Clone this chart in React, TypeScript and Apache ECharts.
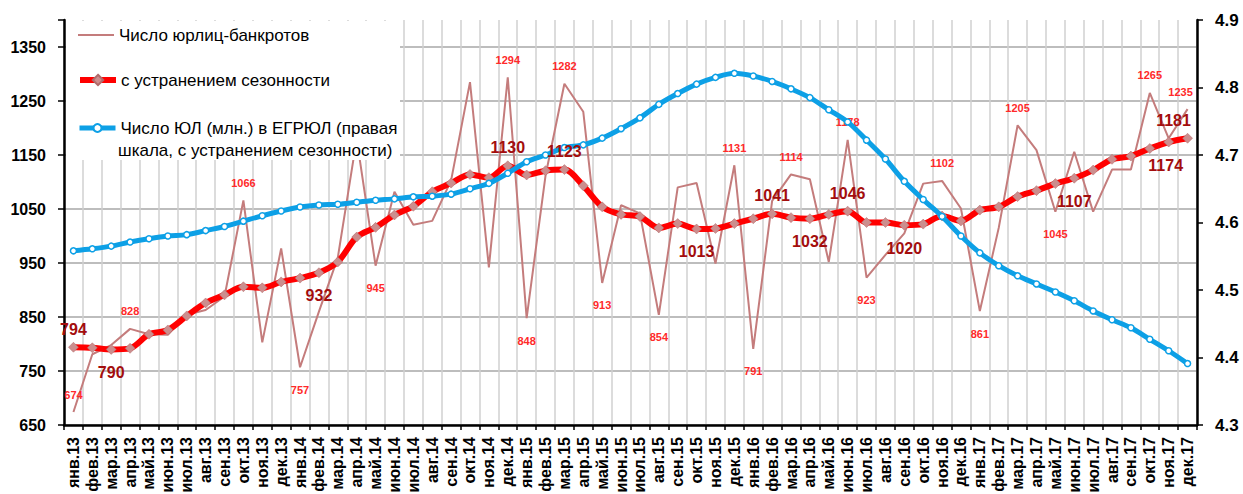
import React, { useEffect, useRef } from 'react';
import * as echarts from 'echarts';

const months = ['янв', 'фев', 'мар', 'апр', 'май', 'июн', 'июл', 'авг', 'сен', 'окт', 'ноя', 'дек'];
const years = ['13', '14', '15', '16', '17'];
const categories = years.flatMap((y) => months.map((m) => `${m}.${y}`));

const bankrupts = [
  674, 781, 798, 828, 818, 817, 854, 863, 888, 1066,
  803, 977, 757, 860, 960, 1180, 945, 1082, 1021, 1028,
  1103, 1285, 942, 1294, 848, 1112, 1282, 1230, 913, 1057,
  1042, 854, 1090, 1098, 949, 1131, 791, 1065, 1114, 1105,
  952, 1178, 923, 965, 1005, 1097, 1102, 1051, 861, 1015,
  1205, 1159, 1045, 1156, 1045, 1123, 1123, 1265, 1181, 1235,
];

const bankruptsSA = [
  794, 793, 790, 792, 818, 826, 852, 876, 891, 906,
  904, 915, 922, 932, 952, 998, 1016, 1039, 1055, 1082,
  1098, 1114, 1108, 1130, 1113, 1121, 1123, 1093, 1054, 1040,
  1036, 1015, 1023, 1013, 1014, 1023, 1032, 1041, 1034, 1032,
  1040, 1046, 1025, 1025, 1020, 1022, 1037, 1028, 1048, 1054,
  1073, 1084, 1097, 1107, 1122, 1142, 1148, 1162, 1174, 1181,
];

const entities = [
  4.558, 4.561, 4.565, 4.571, 4.576, 4.58, 4.582, 4.588, 4.594, 4.602,
  4.61, 4.617, 4.623, 4.626, 4.627, 4.63, 4.633, 4.635, 4.638, 4.639,
  4.642, 4.65, 4.658, 4.673, 4.69, 4.7, 4.711, 4.715, 4.725, 4.739,
  4.755, 4.775, 4.791, 4.805, 4.815, 4.821, 4.817, 4.809, 4.798, 4.785,
  4.767, 4.749, 4.722, 4.694, 4.661, 4.634, 4.609, 4.58, 4.555, 4.536,
  4.521, 4.509, 4.497, 4.484, 4.469, 4.456, 4.444, 4.427, 4.41, 4.391,
];

const rawLabelTop = [0, 3, 9, 23, 26, 35, 38, 41, 46, 50, 57, 59];
const rawLabelBottom = [12, 16, 24, 28, 31, 36, 42, 48, 52];
const saLabelTop = [0, 23, 26, 37, 41, 59];
const saLabelBottom = [2, 13, 33, 39, 44, 53, 58];

const NAME_RAW = 'Число юрлиц-банкротов';
const NAME_SA = 'с устранением сезонности';
const NAME_ENT = 'Число ЮЛ (млн.) в ЕГРЮЛ (правая шкала, с устранением сезонности)';
const ENT_LINE1 = 'Число ЮЛ (млн.) в ЕГРЮЛ (правая';
const ENT_LINE2 = 'шкала, с устранением сезонности)';

const FONT = 'Arial, "Liberation Sans", sans-serif';

function withLabels(values: number[], top: number[], bottom: number[], dTop: number, dBottom: number, offsets: Record<number, number[]>) {
  return values.map((v, i) => {
    const isTop = top.includes(i);
    const isBottom = bottom.includes(i);
    if (!isTop && !isBottom) return v;
    return {
      value: v,
      label: {
        show: true,
        position: isTop ? 'top' : 'bottom',
        distance: isTop ? dTop : dBottom,
        offset: offsets[i] || [0, 0],
      },
    };
  });
}

export default function App() {
  const ref = useRef<HTMLDivElement>(null);

  useEffect(() => {
    if (!ref.current) return;
    const chart = echarts.init(ref.current, undefined, { renderer: 'svg' });

    const rawData = withLabels(bankrupts, rawLabelTop, rawLabelBottom, 12, 17, { 59: [-7, 0] });
    const saLabelData = withLabels(bankruptsSA, saLabelTop, saLabelBottom, 10, 15, { 59: [-14, 0], 58: [-3, 0] });

    const legendBase = {
      orient: 'vertical',
      left: 77,
      padding: 0,
      itemWidth: 36,
      itemHeight: 14,
      z: 10,
      selectedMode: false,
      textStyle: { fontSize: 17, color: '#000', fontFamily: FONT, lineHeight: 20 },
    };

    const option: any = {
      animation: false,
      backgroundColor: '#fff',
      grid: { left: 64, right: 46, top: 20, bottom: 69, containLabel: false, outerBoundsMode: 'none' },
      legend: [
        { ...legendBase, top: 25, data: [NAME_RAW], lineStyle: { width: 2 } },
        { ...legendBase, top: 70, data: [NAME_SA], lineStyle: { width: 6 }, itemHeight: 13 },
        {
          ...legendBase,
          top: 118,
          itemHeight: 10,
          data: [NAME_ENT],
          lineStyle: { width: 5 },
          formatter: () => ENT_LINE1,
        },
      ],
      graphic: [
        {
          type: 'rect',
          z: 5,
          shape: { x: 66, y: 21, width: 334, height: 139 },
          style: { fill: '#ffffff' },
        },
        {
          type: 'text',
          z: 10,
          x: 118,
          y: 150,
          style: {
            text: ENT_LINE2,
            fill: '#000',
            fontSize: 17,
            fontFamily: FONT,
            verticalAlign: 'middle',
            align: 'left',
          },
        },
      ],
      xAxis: {
        type: 'category',
        data: categories,
        boundaryGap: true,
        axisLine: { lineStyle: { color: '#000', width: 2.5 } },
        axisTick: { show: true, interval: 0, length: 5, lineStyle: { color: '#000', width: 1.5 } },
        axisLabel: {
          interval: 0,
          rotate: 90,
          margin: 12,
          fontSize: 16,
          fontWeight: 'bold',
          color: '#000',
          fontFamily: FONT,
        },
        splitLine: { show: true, interval: 0, lineStyle: { color: '#d0d0d0', width: 1.5 } },
      },
      yAxis: [
        {
          type: 'value',
          position: 'left',
          min: 650,
          max: 1400,
          interval: 100,
          axisLine: { show: true, lineStyle: { color: '#000', width: 2.5 } },
          axisTick: { show: true, length: 6, lineStyle: { color: '#000', width: 1.5 } },
          axisLabel: {
            margin: 18,
            fontSize: 16,
            fontWeight: 'bold',
            color: '#000',
            fontFamily: FONT,
            formatter: (v: number) => (v > 1350 ? '' : String(v)),
          },
          splitLine: { show: true, showMaxLine: false, lineStyle: { color: '#bdbdbd', width: 2 } },
        },
        {
          type: 'value',
          position: 'right',
          min: 4.3,
          max: 4.9,
          interval: 0.1,
          axisLine: { show: true, lineStyle: { color: '#000', width: 2.5 } },
          axisTick: { show: true, length: 6, lineStyle: { color: '#000', width: 1.5 } },
          axisLabel: {
            margin: 18,
            fontSize: 17,
            fontWeight: 'bold',
            color: '#000',
            fontFamily: FONT,
            formatter: (v: number) => v.toFixed(1),
          },
          splitLine: { show: false },
        },
      ],
      series: [
        {
          name: NAME_RAW,
          type: 'line',
          data: rawData,
          yAxisIndex: 0,
          symbol: 'circle',
          symbolSize: 0,
          showSymbol: true,
          showAllSymbol: true,
          itemStyle: { color: 'transparent' },
          lineStyle: { color: '#c47c7c', width: 2 },
          label: {
            show: false,
            color: '#ff2a2a',
            fontSize: 11,
            fontWeight: 'bold',
            fontFamily: FONT,
          },
          z: 2,
        },
        {
          name: NAME_SA,
          type: 'line',
          data: bankruptsSA,
          yAxisIndex: 0,
          smooth: 0.3,
          symbol: 'diamond',
          symbolSize: 10,
          showAllSymbol: true,
          itemStyle: { color: '#cc8e8e', borderColor: '#b06a6a', borderWidth: 0.5 },
          lineStyle: { color: '#ff0000', width: 6 },
          z: 3,
        },
        {
          name: NAME_ENT,
          type: 'line',
          data: entities,
          yAxisIndex: 1,
          smooth: 0.3,
          symbol: 'circle',
          symbolSize: 6,
          showAllSymbol: true,
          itemStyle: { color: '#ffffff', borderColor: '#0da0e6', borderWidth: 1.5 },
          lineStyle: { color: '#0da0e6', width: 5 },
          z: 4,
        },
        {
          name: 'sa-labels',
          type: 'line',
          data: saLabelData,
          yAxisIndex: 0,
          silent: true,
          symbol: 'circle',
          symbolSize: 0,
          showAllSymbol: true,
          itemStyle: { color: 'transparent' },
          lineStyle: { width: 0, opacity: 0 },
          label: {
            show: false,
            color: '#a30d0d',
            fontSize: 16,
            fontWeight: 'bold',
            fontFamily: FONT,
          },
          z: 6,
        },
      ],
    };

    chart.setOption(option);
    return () => chart.dispose();
  }, []);

  return (
    <div
      ref={ref}
      style={{ position: 'absolute', left: 0, top: 0, width: 1243, height: 494 }}
    />
  );
}
